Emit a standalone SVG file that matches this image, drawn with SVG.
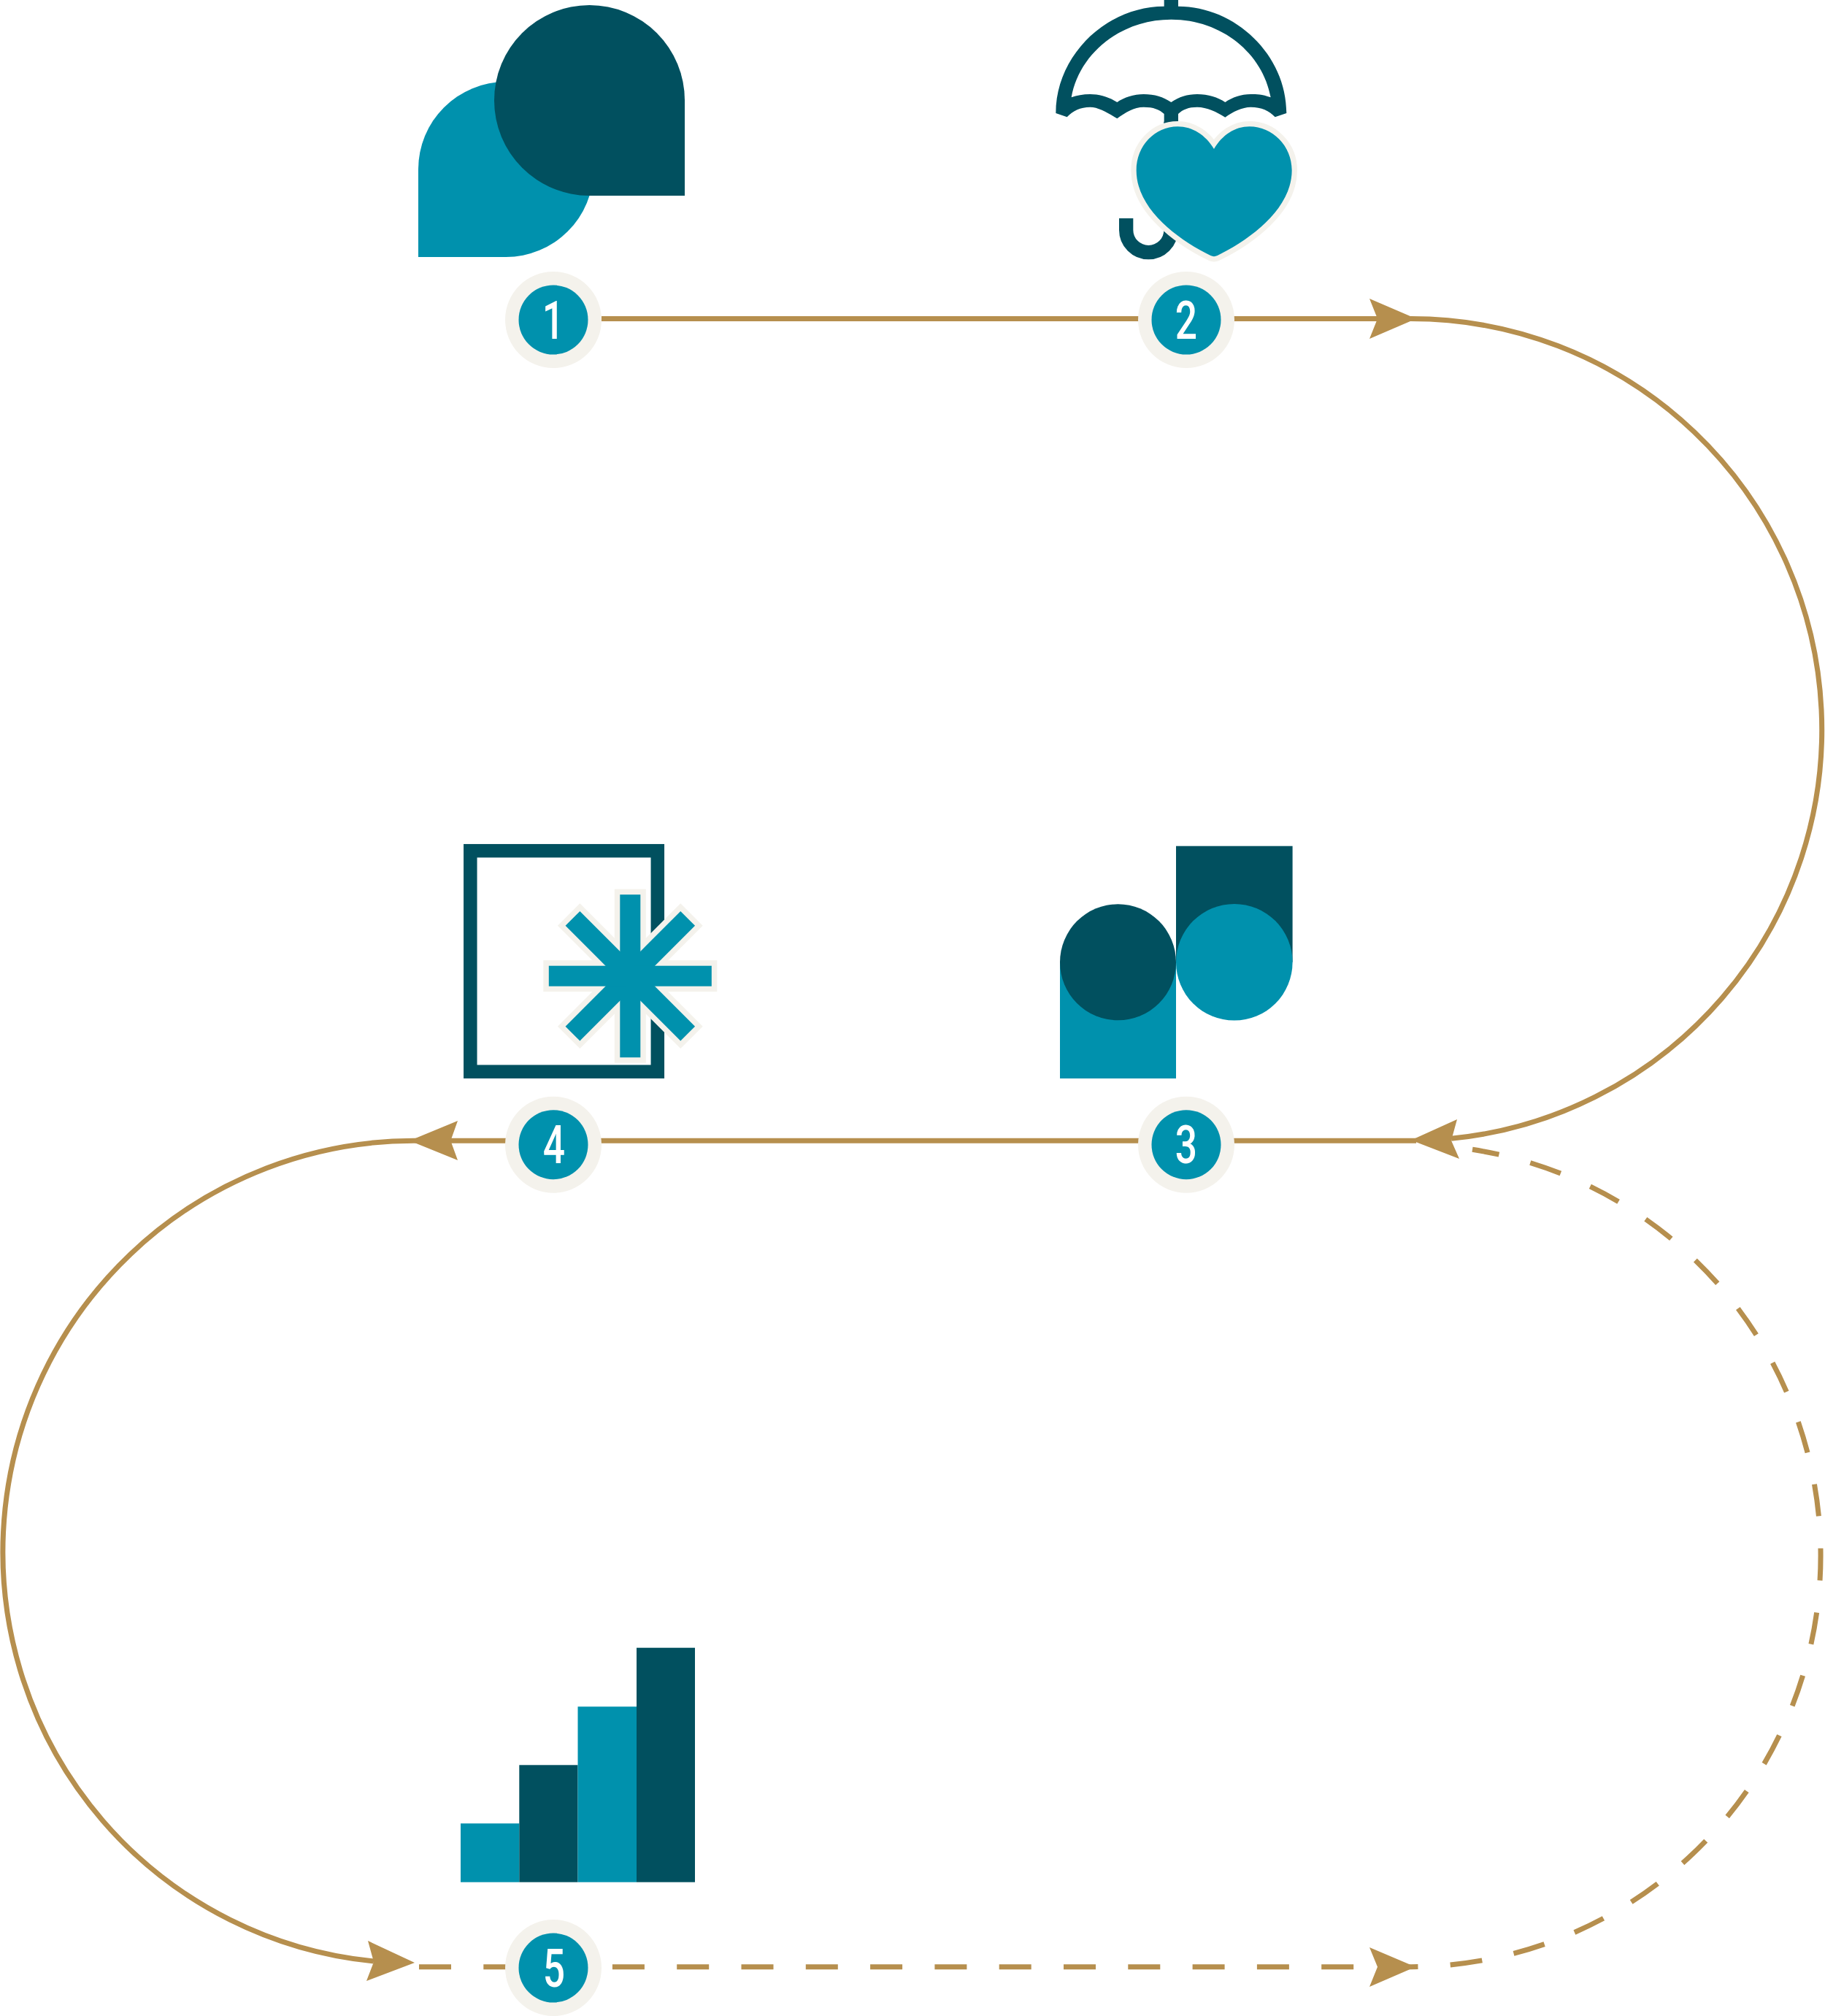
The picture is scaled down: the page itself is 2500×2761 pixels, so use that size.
<svg xmlns="http://www.w3.org/2000/svg" width="2500" height="2761" viewBox="0 0 2500 2761">
<style>
.teal{fill:#0091ad}
.dark{fill:#01505f}
.ol{fill:#f4f2ec}
.conn{fill:none;stroke:#b68f4e;stroke-width:7}
.dash{stroke-dasharray:44 44.3}
.head{fill:#b68f4e}
.num{font-family:Roboto,"Liberation Sans",sans-serif;font-size:72px;font-weight:500;fill:#fff;text-anchor:middle}
</style>
<defs>
<rect id="bar" x="-14" y="-111.5" width="28" height="223"/>
<g id="badge"><circle r="66" class="ol"/><circle r="47.5" class="teal"/></g>
</defs>
<rect width="2500" height="2761" fill="#fff"/>
<g id="connectors">
<path class="conn" d="M824 436.5H1933A562.75 562.75 0 0 1 1988 1559.3"/>
<path class="conn" d="M1940 1562.3H567A563.2 563.2 0 0 0 512 2686"/>
<path class="conn dash" d="M574 2693.7H1933A563 563 0 0 0 2017 1574.3"/>
<polygon class="head" points="1940,436.5 1876,409 1887,436.5 1876,464"/>
<polygon class="head" points="1933,1561.5 1996,1533 1988,1562 1999,1587"/>
<polygon class="head" points="561,1562.3 627,1535 617.3,1562.3 627,1589"/>
<polygon class="head" points="568,2688 504,2658 512,2687 502,2713"/>
<polygon class="head" points="1939,2693.7 1876,2667 1887,2693.7 1876,2721"/>
</g>
<g id="icon-speech">
<path class="teal" d="M573 352V232A120 120 0 1 1 693 352Z"/>
<path class="dark" d="M938 268V137.5A130.5 130.5 0 1 0 807.5 268Z"/>
</g>
<g id="icon-umbrella">
<g transform="translate(1420 0) scale(.33333)">
<path class="dark" fill-rule="evenodd" d="M79 465C79 225 290 26 524 26V0H582V26C816 26 1027 225 1027 465L980 481C955 455 925 440 880 440C845 440 805 460 775 482C740 460 700 440 660 440C625 440 600 450 582 468V510H524V468C505 450 480 440 440 440C400 440 365 462 331 487C295 465 255 440 220 440C180 440 150 455 125 481ZM143 400C175 220 345 80 553 80C761 80 930 220 962 400C925 387 905 387 880 387C840 387 805 400 775 420C745 400 705 387 660 387C620 387 585 398 553 420C520 398 485 387 440 387C400 387 360 400 331 420C300 400 260 387 220 387C190 387 165 392 143 400Z"/>
<path fill="none" stroke="#01505f" stroke-width="58" d="M368 897V945A92 92 0 0 0 552 945V500"/>
<path class="teal" paint-order="stroke" stroke="#f4f2ec" stroke-width="44" stroke-linejoin="round" d="M729 612C695 555 640 520 580 520C485 520 410 600 410 700C410 860 583 985 715 1050Q729 1057 743 1050C875 985 1049 860 1049 700C1049 600 970 520 875 520C815 520 763 555 729 612Z"/>
</g>
</g>
<g id="icon-circles">
<rect class="dark" x="1611" y="1158.7" width="159.6" height="159"/>
<rect class="teal" x="1452" y="1317.8" width="159" height="159.2"/>
<circle class="dark" cx="1531.5" cy="1317.8" r="79.5"/>
<circle class="teal" cx="1690.8" cy="1317.8" r="79.8"/>
</g>
<g id="icon-asterisk">
<rect x="644.3" y="1165.2" width="256.5" height="302.5" fill="none" stroke="#01505f" stroke-width="18.5"/>
<g transform="translate(863.3 1336.7)">
<g fill="#f4f2ec" stroke="#f4f2ec" stroke-width="15">
<use href="#bar"/><use href="#bar" transform="rotate(45)"/><use href="#bar" transform="rotate(90)"/><use href="#bar" transform="rotate(135)"/>
</g>
<g class="teal">
<use href="#bar"/><use href="#bar" transform="rotate(45)"/><use href="#bar" transform="rotate(90)"/><use href="#bar" transform="rotate(135)"/>
</g>
</g>
</g>
<g id="icon-bars">
<rect class="teal" x="631" y="2497.3" width="80.3" height="80.4"/>
<rect class="dark" x="711.3" y="2417.3" width="80.2" height="160.4"/>
<rect class="teal" x="791.5" y="2337.3" width="80.5" height="240.4"/>
<rect class="dark" x="872" y="2256.7" width="80" height="321"/>
</g>
<g id="node-1"><use href="#badge" x="758" y="438"/><text class="num" transform="translate(758 463.5) scale(.74 1)">1</text></g>
<g id="node-2"><use href="#badge" x="1625" y="438"/><text class="num" transform="translate(1625 463.5) scale(.74 1)">2</text></g>
<g id="node-3"><use href="#badge" x="1625" y="1567.7"/><text class="num" transform="translate(1625 1593) scale(.74 1)">3</text></g>
<g id="node-4"><use href="#badge" x="758" y="1567.7"/><text class="num" transform="translate(759 1593) scale(.74 1)">4</text></g>
<g id="node-5"><use href="#badge" x="758" y="2695"/><text class="num" transform="translate(759 2721) scale(.74 1)">5</text></g>
</svg>
